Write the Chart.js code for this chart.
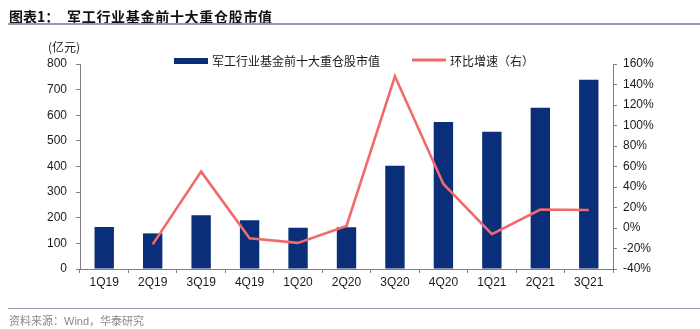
<!DOCTYPE html>
<html>
<head>
<meta charset="utf-8">
<script src="https://cdn.jsdelivr.net/npm/chart.js@4/dist/chart.umd.min.js"></script>
<style>
    body { margin: 0; background: #fff; }
    #wrap { position: relative; width: 700px; height: 329px; overflow: hidden; }
    #chart { position: absolute; left: 0; top: 0; }
    .title {
        position: absolute; left: 9px; top: 6px;
        font: bold 14px "Noto Sans CJK SC", sans-serif; color: #111; white-space: nowrap;
    }
    .title .main { position: absolute; left: 58px; top: 0; letter-spacing: 0.7px; }
    .rule { position: absolute; left: 8px; right: 0; height: 2px; background: #8e9bb0; }
    .unit {
        position: absolute; left: 48px; top: 38px;
        font: 12px "Noto Sans CJK SC", sans-serif; color: #222;
    }
    .source {
        position: absolute; left: 9px; top: 312px;
        font: 11px "Noto Sans CJK SC", sans-serif; color: #888; white-space: nowrap;
    }
    .source .latin { font-family: "Liberation Sans", Arial, sans-serif; }
</style>
</head>
<body>
<div id="wrap">
    <canvas id="chart" width="700" height="329"></canvas>
    <div class="title">图表1：<span class="main">军工行业基金前十大重仓股市值</span></div>
    <div class="rule" style="top:23px"></div>
    <div class="unit">(亿元)</div>
    <div class="rule" style="top:308px; height:1px;"></div>
    <div class="source">资料来源：<span class="latin">Wind</span>，华泰研究</div>
</div>
<script>
// ── Data ──────────────────────────────────────────────────

const quarters    = ['1Q19', '2Q19', '3Q19', '4Q19', '1Q20', '2Q20', '3Q20', '4Q20', '1Q21', '2Q21', '3Q21'];
const marketValue = [164, 139, 210, 190, 161, 163, 403, 574, 536, 629, 739];
const qoqGrowth   = [null, -16, 55, -10, -14.5, 2, 148, 43, -6, 18, 17.5];

const barLabel  = '军工行业基金前十大重仓股市值';
const lineLabel = '环比增速（右）';

// ── Style ─────────────────────────────────────────────────

const NAVY  = '#0a2f78';
const RED   = '#f06a6c';
const AXIS  = '#7f7f7f';
const TEXT  = '#1a1a1a';

// legend drawn by hand, sits inside the plot area like the original
const legendPlugin = {
    id: 'inlineLegend',
    afterDraw(chart) {
        const ctx = chart.ctx;
        ctx.save();
        ctx.fillStyle = NAVY;
        ctx.fillRect(174, 58, 34, 6);
        ctx.strokeStyle = RED;
        ctx.lineWidth = 3;
        ctx.beginPath();
        ctx.moveTo(412, 60);
        ctx.lineTo(446, 60);
        ctx.stroke();
        ctx.fillStyle = TEXT;
        ctx.font = '12px "Noto Sans CJK SC", sans-serif';
        ctx.textBaseline = 'middle';
        ctx.fillText(barLabel, 212, 61);
        ctx.fillText(lineLabel, 450, 61);
        ctx.restore();
    }
};

new Chart(document.getElementById('chart').getContext('2d'), {
    plugins: [legendPlugin],
    data: {
        labels: quarters,
        datasets: [
            {
                type: 'line',
                label: lineLabel,
                data: qoqGrowth,
                yAxisID: 'y2',
                borderColor: RED,
                borderWidth: 2.6,
                pointRadius: 0,
                tension: 0,
                order: 0
            },
            {
                type: 'bar',
                label: barLabel,
                data: marketValue,
                yAxisID: 'y',
                backgroundColor: NAVY,
                barPercentage: 0.4,
                categoryPercentage: 1,
                order: 1
            }
        ]
    },
    options: {
        responsive: false,
        animation: false,
        layout: { padding: { top: 64, left: 0, right: 0, bottom: 0 } },
        plugins: {
            legend:  { display: false },
            tooltip: { enabled: false }
        },
        scales: {
            x: {
                grid:   { drawOnChartArea: false, tickLength: 4, color: AXIS, offset: true },
                border: { color: AXIS },
                ticks:  { color: TEXT, font: { family: '"Liberation Sans", Arial, sans-serif', size: 12 }, padding: 2, maxRotation: 0 },
                afterFit(s) { s.height = 60; }
            },
            y: {
                position: 'left',
                min: 0, max: 800,
                ticks:  { stepSize: 100, color: TEXT, font: { family: '"Liberation Sans", Arial, sans-serif', size: 12 }, padding: 9 },
                grid:   { drawOnChartArea: false, tickLength: 4, color: AXIS },
                border: { color: AXIS },
                afterFit(s) { s.width = 80; }
            },
            y2: {
                position: 'right',
                min: -40, max: 160,
                ticks:  {
                    stepSize: 20, color: TEXT, padding: 6,
                    font: { family: '"Liberation Sans", Arial, sans-serif', size: 12 },
                    callback: v => v + '%'
                },
                grid:   { drawOnChartArea: false, tickLength: 4, color: AXIS },
                border: { color: AXIS },
                afterFit(s) { s.width = 87; }
            }
        }
    }
});
</script>
</body>
</html>
